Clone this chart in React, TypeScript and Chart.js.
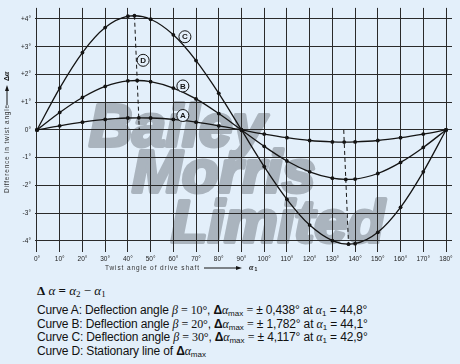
import React, { useEffect, useRef } from 'react';
import { Chart, registerables } from 'chart.js';

Chart.register(...registerables);

// ---- data ----
const xTickValues = [0, 10, 20, 30, 40, 50, 60, 70, 80, 90, 100, 110, 120, 130, 140, 150, 160, 170, 180];
const xTickLabels = ['0°', '10°', '20°', '30°', '40°', '50°', '60°', '70°', '80°', '90°', '100°', '110°', '120°', '130°', '140°', '150°', '160°', '170°', '180°'];
const yTickValues = [-4, -3, -2, -1, 0, 1, 2, 3, 4];
const yTickLabels = ['-4°', '-3°', '-2°', '-1°', '0°', '+1°', '+2°', '+3°', '+4°'];

const anglesA = [0, 10, 20, 30, 40, 44.8, 50, 60, 70, 80, 90, 100, 110, 120, 130, 135.2, 140, 150, 160, 170, 180];
const deltaA = [0, 0.15, 0.28, 0.38, 0.43, 0.438, 0.43, 0.38, 0.28, 0.15, 0, -0.15, -0.28, -0.38, -0.43, -0.438, -0.43, -0.38, -0.28, -0.15, 0];

const anglesB = [0, 10, 20, 30, 40, 44.1, 50, 60, 70, 80, 90, 100, 110, 120, 130, 135.9, 140, 150, 160, 170, 180];
const deltaB = [0, 0.63, 1.17, 1.57, 1.77, 1.782, 1.74, 1.51, 1.12, 0.59, 0, -0.59, -1.12, -1.51, -1.74, -1.782, -1.77, -1.57, -1.17, -0.63, 0];

const anglesC = [0, 10, 20, 30, 40, 42.9, 50, 60, 70, 80, 90, 100, 110, 120, 130, 137.1, 140, 150, 160, 170, 180];
const deltaC = [0, 1.51, 2.79, 3.69, 4.10, 4.117, 3.99, 3.43, 2.50, 1.32, 0, -1.32, -2.50, -3.43, -3.99, -4.117, -4.10, -3.69, -2.79, -1.51, 0];

// Curve D: stationary line of the maxima (null separates the two branches)
const anglesD = [42.9, 44.1, 44.8, 45, 90, 135, 135.2, 135.9, 137.1];
const deltaD = [4.117, 1.782, 0.438, 0, null, 0, -0.438, -1.782, -4.117];

// circled curve labels (data coordinates)
const curveLabels = ['C', 'B', 'A', 'D'];
const curveLabelX = [65.1, 64.2, 64.2, 46.7];
const curveLabelY = [3.36, 1.585, 0.52, 2.51];

const BG = '#e3effa';
const INK = '#141414';
const GRID = '#2a2a2a';

const toPts = (xs: number[], ys: (number | null)[]) => xs.map((x, i) => ({ x, y: ys[i] }));

const decorPlugin = {
  id: 'decor',
  beforeDraw(chart: any) {
    const ctx = chart.ctx as CanvasRenderingContext2D;
    ctx.save();
    ctx.fillStyle = BG;
    ctx.fillRect(0, 0, chart.width, chart.height);
    // watermark
    ctx.fillStyle = '#aab4be';
    ctx.strokeStyle = '#aab4be';
    ctx.lineWidth = 4;
    ctx.lineJoin = 'round';
    ctx.font = 'italic bold 60px "Liberation Sans", Arial, sans-serif';
    ctx.textBaseline = 'alphabetic';
    ctx.textAlign = 'left';
    const words: [string, number, number][] = [
      ['Bailey', 89, 146],
      ['Morris', 132, 192],
      ['Limited', 171, 242],
    ];
    words.forEach(([w, x, y]) => {
      ctx.strokeText(w, x, y);
      ctx.fillText(w, x, y);
    });
    ctx.restore();
  },
  afterDatasetsDraw(chart: any) {
    const ctx = chart.ctx as CanvasRenderingContext2D;
    const xs = chart.scales.x;
    const ys = chart.scales.y;
    ctx.save();
    // circled labels
    curveLabels.forEach((t, i) => {
      const px = xs.getPixelForValue(curveLabelX[i]);
      const py = ys.getPixelForValue(curveLabelY[i]);
      ctx.beginPath();
      ctx.arc(px, py, 6, 0, Math.PI * 2);
      ctx.fillStyle = BG;
      ctx.fill();
      ctx.lineWidth = 1;
      ctx.strokeStyle = INK;
      ctx.stroke();
      ctx.fillStyle = INK;
      ctx.font = 'bold 8px "Liberation Sans", Arial, sans-serif';
      ctx.textAlign = 'center';
      ctx.textBaseline = 'middle';
      ctx.fillText(t, px, py + 0.5);
    });

    const arrow = (x0: number, x1: number, y: number) => {
      ctx.beginPath();
      ctx.moveTo(x0, y);
      ctx.lineTo(x1 - 4, y);
      ctx.lineWidth = 1;
      ctx.strokeStyle = INK;
      ctx.stroke();
      ctx.beginPath();
      ctx.moveTo(x1, y);
      ctx.lineTo(x1 - 6, y - 2);
      ctx.lineTo(x1 - 6, y + 2);
      ctx.closePath();
      ctx.fillStyle = INK;
      ctx.fill();
    };

    // x axis title
    ctx.fillStyle = '#333';
    ctx.font = '6.5px "Liberation Sans", Arial, sans-serif';
    (ctx as any).letterSpacing = '0.9px';
    ctx.textAlign = 'left';
    ctx.textBaseline = 'middle';
    ctx.fillText('Twist angle of drive shaft', 105, 268);
    (ctx as any).letterSpacing = '0px';
    arrow(204, 242, 268);
    ctx.fillStyle = INK;
    ctx.font = 'italic bold 8px "Liberation Serif", serif';
    ctx.fillText('α', 249, 268);
    ctx.font = 'bold 5px "Liberation Sans", Arial, sans-serif';
    ctx.fillText('1', 254.5, 270);

    // y axis title (rotated)
    ctx.translate(7, 193);
    ctx.rotate(-Math.PI / 2);
    ctx.fillStyle = '#333';
    ctx.font = '6.5px "Liberation Sans", Arial, sans-serif';
    (ctx as any).letterSpacing = '0.8px';
    ctx.fillText('Difference in twist angle', 0, 0);
    (ctx as any).letterSpacing = '0px';
    arrow(88, 108, 0);
    ctx.fillStyle = INK;
    ctx.font = 'bold 7px "Liberation Sans", Arial, sans-serif';
    ctx.fillText('Δ', 112, 0);
    ctx.font = 'italic bold 8px "Liberation Serif", serif';
    ctx.fillText('α', 117, 0);
    ctx.restore();
  },
};

function ChartCanvas() {
  const ref = useRef<HTMLCanvasElement | null>(null);
  useEffect(() => {
    if (!ref.current) return;
    const lineDs = (label: string, xs: number[], ys: number[]) => ({
      label,
      data: toPts(xs, ys),
      borderColor: INK,
      backgroundColor: INK,
      borderWidth: 1.3,
      pointRadius: 1.9,
      pointBorderWidth: 0,
      pointBackgroundColor: INK,
      cubicInterpolationMode: 'monotone' as const,
      fill: false,
    });
    const chart = new Chart(ref.current, {
      type: 'line',
      data: {
        datasets: [
          lineDs('A', anglesA, deltaA),
          lineDs('B', anglesB, deltaB),
          lineDs('C', anglesC, deltaC),
          {
            label: 'D',
            data: toPts(anglesD, deltaD),
            borderColor: INK,
            borderWidth: 1,
            borderDash: [4, 3],
            pointRadius: 0,
            spanGaps: false,
            fill: false,
          },
        ],
      },
      options: {
        responsive: false,
        animation: false,
        layout: { padding: { top: 3.6, right: 8, left: 0, bottom: 0 } },
        plugins: { legend: { display: false }, tooltip: { enabled: false } },
        scales: {
          x: {
            type: 'linear',
            min: -0.88,
            max: 182.64,
            afterBuildTicks: (axis: any) => {
              axis.ticks = xTickValues.map((v) => ({ value: v }));
            },
            afterFit: (scale: any) => {
              scale.height = 28;
            },
            grid: { color: GRID, lineWidth: 1, drawTicks: false },
            border: { display: false },
            ticks: {
              padding: 3.5,
              maxRotation: 0,
              autoSkip: false,
              color: '#222',
              font: { size: 6.5, family: '"Liberation Sans", Arial, sans-serif' },
              callback: (_v: any, i: number) => xTickLabels[i],
            },
          },
          y: {
            type: 'linear',
            min: -4.4,
            max: 4.4,
            afterBuildTicks: (axis: any) => {
              axis.ticks = yTickValues.map((v) => ({ value: v }));
            },
            afterFit: (scale: any) => {
              scale.width = 35;
            },
            grid: { color: GRID, lineWidth: 1, drawTicks: false },
            border: { display: false },
            ticks: {
              padding: 4,
              color: '#222',
              font: { size: 6.5, family: '"Liberation Sans", Arial, sans-serif' },
              callback: (_v: any, i: number) => yTickLabels[i],
            },
          },
        },
      },
      plugins: [decorPlugin],
    } as any);
    return () => chart.destroy();
  }, []);
  return <canvas ref={ref} width={460} height={280} style={{ display: 'block' }} />;
}

const serifI: React.CSSProperties = { fontFamily: '"Liberation Serif", "DejaVu Serif", serif', fontStyle: 'italic' };
const serif: React.CSSProperties = { fontFamily: '"Liberation Serif", "DejaVu Serif", serif' };
const sub: React.CSSProperties = { fontSize: '8px', verticalAlign: '-2px', letterSpacing: 0 };

function Dmax() {
  return (
    <span>
      <span style={{ fontWeight: 'bold' }}>Δ</span>
      <span style={serifI}>α</span>
      <span style={sub}>max</span>
    </span>
  );
}

function Alpha1() {
  return (
    <span>
      <span style={serifI}>α</span>
      <span style={sub}>1</span>
    </span>
  );
}

const curveNames = ['A', 'B', 'C'];
const curveBeta = ['10°', '20°', '30°'];
const curveMax = ['0,438°', '1,782°', '4,117°'];
const curveAt = ['44,8°', '44,1°', '42,9°'];

export default function App() {
  const lineStyle = (top: number): React.CSSProperties => ({
    position: 'absolute',
    left: 37,
    top,
    whiteSpace: 'nowrap',
    fontFamily: '"Liberation Sans", Arial, sans-serif',
    fontSize: '12px',
    letterSpacing: '-0.15px',
    lineHeight: '14px',
    color: '#111',
  });
  const tops = [303, 316.5, 330];
  return (
    <div style={{ position: 'fixed', left: 0, top: 0, width: 460, height: 364, background: BG, overflow: 'hidden' }}>
      <div style={{ position: 'absolute', left: 0, top: 0, width: 460, height: 280 }}>
        <ChartCanvas />
      </div>
      <div style={{ ...lineStyle(284), ...serif, fontSize: '13px', letterSpacing: 0 }}>
        <span style={{ fontWeight: 'bold' }}>Δ</span> <span style={{ fontStyle: 'italic' }}>α</span>{' '}
        <span style={{ fontWeight: 'bold' }}>=</span> <span style={{ fontStyle: 'italic' }}>α</span>
        <span style={{ fontSize: '9px', verticalAlign: '-2px' }}>2</span> − <span style={{ fontStyle: 'italic' }}>α</span>
        <span style={{ fontSize: '9px', verticalAlign: '-2px' }}>1</span>
      </div>
      {curveNames.map((n, i) => (
        <div key={n} style={lineStyle(tops[i])}>
          Curve {n}: Deflection angle <span style={serifI}>β</span> <span style={serif}>=</span>{' '}
          <span style={serif}>{curveBeta[i]}</span>, <Dmax /> <span style={serif}>=</span> ± {curveMax[i]} at <Alpha1 /> = {curveAt[i]}
        </div>
      ))}
      <div style={lineStyle(344)}>
        Curve D: Stationary line of <Dmax />
      </div>
    </div>
  );
}
